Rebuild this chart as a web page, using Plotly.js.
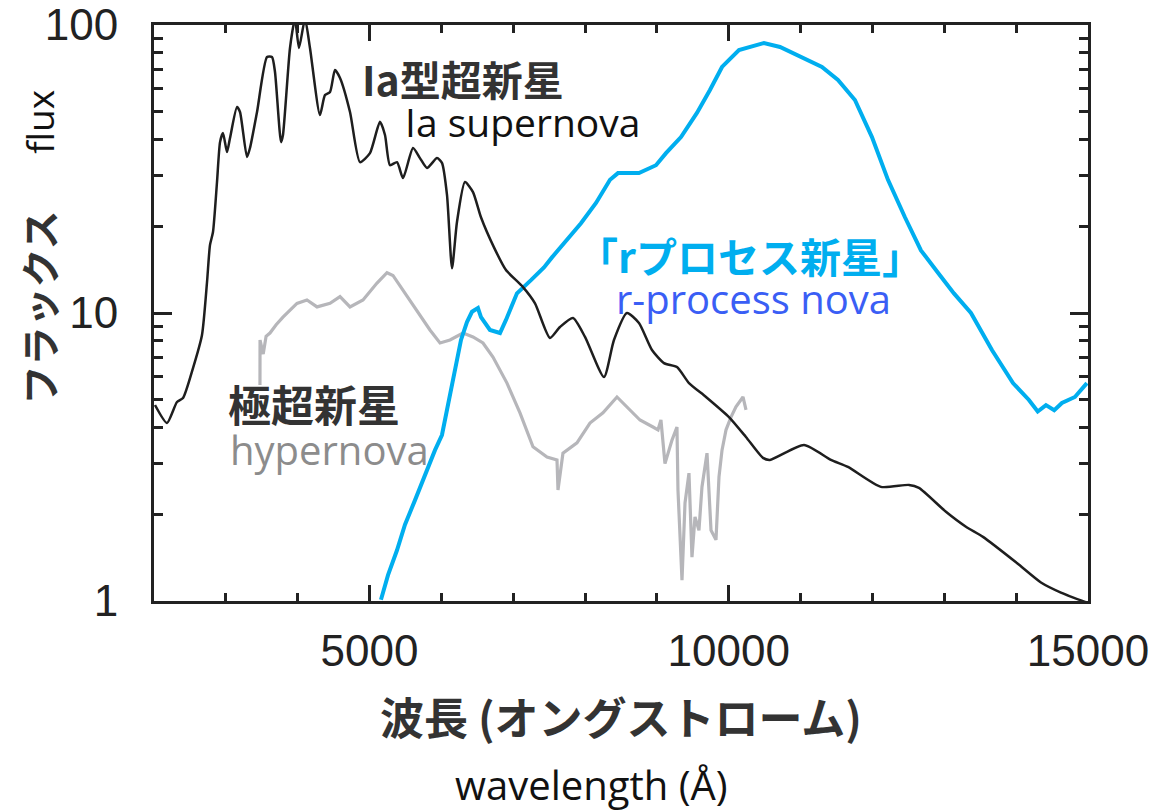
<!DOCTYPE html>
<html>
<head>
<meta charset="utf-8">
<script src="https://cdn.plot.ly/plotly-3.0.1.min.js"></script>
<style>
  html, body { margin: 0; padding: 0; background: #fff; }
  #chart { width: 1157px; height: 811px; }
</style>
</head>
<body>
<div id="chart"></div>
<script>
// Type Ia supernova spectrum (wavelength in Å, relative flux)
const iaWave = [2014, 2181, 2320, 2404, 2543, 2668, 2738, 2779, 2821, 2877, 2919, 2960, 3016, 3058, 3155, 3197,
  3294, 3336, 3434, 3573, 3642, 3684, 3768, 3795, 3893, 3962, 4018, 4102, 4171, 4310, 4380, 4450, 4519, 4589,
  4728, 4867, 5006, 5145, 5215, 5285, 5382, 5466, 5605, 5702, 5800, 5939, 6008, 6078, 6148, 6217, 6328, 6440,
  6551, 6732, 6899, 7136, 7303, 7511, 7651, 7832, 7999, 8263, 8402, 8583, 8750, 8931, 9098, 9279, 9446, 9683,
  10003, 10239, 10476, 10573, 11047, 11422, 11659, 12118, 12508, 12647, 13023, 13301, 13538, 14011, 14345,
  14623, 14971];
const iaFlux = [4.79, 4.15, 4.91, 5.07, 6.44, 8.39, 12.8, 17.2, 19.1, 28.5, 39.2, 42.2, 36.2, 40.5, 51.9, 49.9,
  34.8, 37.4, 49.9, 77.4, 77.4, 68.7, 39.2, 41.5, 83.2, 105, 83.2, 105, 83.2, 48.7, 57.1, 58.5, 69.8, 65.5,
  49.9, 33.4, 35.9, 46.1, 41.5, 32.6, 33.4, 29.4, 37.4, 34.5, 31.9, 34.5, 33.2, 25.7, 14.3, 20.7, 28.5, 26.3,
  21.5, 16.9, 14.1, 12.3, 10.8, 8.19, 8.94, 9.61, 8.26, 5.99, 8.06, 10.0, 9.23, 7.44, 6.70, 6.49, 5.71, 5.11,
  4.35, 3.71, 3.14, 3.09, 3.48, 3.09, 2.92, 2.49, 2.53, 2.47, 2.04, 1.81, 1.67, 1.355, 1.16,
  1.07, 0.99];

// r-process nova (kilonova) spectrum
const rpWave = [5159, 5257, 5382, 5493, 5633, 5772, 5911, 6008, 6148, 6217, 6273, 6356, 6426, 6509, 6551, 6676,
  6816, 6899, 7052, 7247, 7428, 7539, 7706, 7943, 8152, 8347, 8458, 8750, 8987, 9126, 9335, 9557, 9738, 9906,
  10142, 10490, 10713, 11005, 11297, 11520, 11756, 11993, 12216, 12452, 12675, 12912, 13134, 13371, 13663,
  13956, 14178, 14300, 14415, 14530, 14637, 14818, 14985];
const rpFlux = [1.01, 1.23, 1.50, 1.84, 2.24, 2.74, 3.34, 3.77, 5.62, 6.76, 8.06, 9.30, 10.1, 10.4, 9.68, 8.73,
  8.52, 9.46, 11.7, 13.0, 14.4, 15.6, 17.5, 20.5, 24.1, 29.0, 30.6, 30.6, 32.6, 35.9, 40.8, 49.5, 59.5, 71.5,
  81.9, 86.6, 83.9, 77.4, 71.5, 64.4, 54.9, 40.8, 29.0, 21.5, 16.5, 13.8, 11.7, 10.0, 7.44,
  5.71, 4.99, 4.55, 4.79, 4.60, 4.87, 5.11, 5.71];

// Hypernova spectrum
const hnWave = [3475, 3476, 3520, 3560, 3614, 3700, 3795, 3900, 3990, 4129, 4269, 4450, 4589, 4728, 4909, 5104,
  5243, 5326, 5466, 5660, 5841, 5981, 6120, 6301, 6440, 6579, 6718, 6913, 7094, 7275, 7470, 7609, 7623, 7692,
  7887, 8068, 8249, 8444, 8583, 8764, 8945, 9015, 9056, 9112, 9210, 9279, 9293, 9349, 9391, 9446, 9488, 9530,
  9585, 9627, 9697, 9753, 9822, 9864, 9906, 9962, 10031, 10100, 10198, 10240];
const hnFlux = [5.62, 8.06, 7.20, 8.30, 8.52, 9.10, 9.68, 10.3, 10.8, 11.1, 10.5, 10.8, 11.4, 10.5, 11.1, 12.7,
  13.8, 13.5, 12.0, 10.2, 8.73, 7.87, 8.06, 8.52, 8.26, 7.87, 7.03, 5.71, 4.50, 3.43, 3.16, 3.09, 2.43, 3.26,
  3.54, 4.15, 4.50, 5.11, 4.72, 4.25, 4.02, 3.93, 4.25, 3.00, 3.62, 4.02, 2.43, 1.18, 2.19, 2.78, 1.42, 1.96,
  1.76, 2.49, 3.26, 1.76, 1.63, 2.70, 3.34, 3.93, 4.35, 4.72, 5.11, 4.61];

// Axis tick labels
const xTicks = [5000, 10000, 15000];
const yTicks = [1, 10, 100];

const traces = [
  { x: hnWave, y: hnFlux, mode: 'lines', line: { color: '#b6b6ba', width: 3.2 }, hoverinfo: 'skip' },
  { x: rpWave, y: rpFlux, mode: 'lines', line: { color: '#00aeef', width: 4 }, hoverinfo: 'skip' },
  { x: iaWave, y: iaFlux, mode: 'lines', line: { color: '#1e1e1e', width: 2.5, shape: 'spline', smoothing: 0.6 }, hoverinfo: 'skip' }
];

const axisCommon = {
  showline: true, linecolor: '#222', linewidth: 3, mirror: 'allticks',
  ticks: 'inside', tickcolor: '#222', tickwidth: 3, showgrid: false, zeroline: false,
  tickfont: { family: 'Liberation Sans, Arial, sans-serif', size: 44, color: '#222' }
};

const cjk = 'Noto Sans CJK JP, sans-serif';
const latin = 'Open Sans, Noto Sans, sans-serif';

const layout = {
  width: 1157, height: 811,
  margin: { l: 154, r: 69, t: 25, b: 210 },
  paper_bgcolor: '#fff', plot_bgcolor: '#fff',
  showlegend: false,
  xaxis: Object.assign({}, axisCommon, {
    range: [2000, 15000], tickvals: xTicks, ticktext: xTicks.map(String), ticklen: 16, ticklabelstandoff: 9,
    minor: { dtick: 1000, tick0: 0, ticks: 'inside', ticklen: 8, tickwidth: 3, tickcolor: '#222' }
  }),
  yaxis: Object.assign({}, axisCommon, {
    type: 'log', range: [0, 2], tickvals: yTicks, ticktext: yTicks.map(String), ticklen: 18, ticklabelstandoff: 24,
    minor: { dtick: 'D1', ticks: 'inside', ticklen: 9, tickwidth: 3, tickcolor: '#222' }
  }),
  annotations: [
    { xref: 'paper', yref: 'paper', x: 0.5, y: -0.2, xanchor: 'center', yanchor: 'middle', showarrow: false,
      text: '<b>波長 (オングストローム)</b>', font: { family: cjk, size: 44, color: '#333' } },
    { xref: 'paper', yref: 'paper', x: 0.468, y: -0.318, xanchor: 'center', yanchor: 'middle', showarrow: false,
      borderpad: 0, text: 'wavelength (Å)', font: { family: latin, size: 40, color: '#111' } },
    { xref: 'paper', yref: 'paper', x: -0.124, y: 0.51, xanchor: 'center', yanchor: 'middle', showarrow: false,
      textangle: -90, text: '<b>フラックス</b>', font: { family: cjk, size: 39, color: '#333' } },
    { xref: 'paper', yref: 'paper', x: -0.122, y: 0.832, xanchor: 'center', yanchor: 'middle', showarrow: false,
      textangle: -90, text: 'flux', font: { family: latin, size: 37, color: '#111' } },
    { xref: 'x', yref: 'paper', x: 6300, y: 0.908, xanchor: 'center', yanchor: 'middle', showarrow: false,
      borderpad: 0, text: '<b>Ia型超新星</b>', font: { family: cjk, size: 41, color: '#333' } },
    { xref: 'x', yref: 'paper', x: 7122, y: 0.833, xanchor: 'center', yanchor: 'middle', showarrow: false,
      borderpad: 0, text: 'Ia supernova', font: { family: latin, size: 39, color: '#111' } },
    { xref: 'x', yref: 'paper', x: 10295, y: 0.601, xanchor: 'center', yanchor: 'middle', showarrow: false,
      borderpad: 0, text: '<b>「rプロセス新星」</b>', font: { family: cjk, size: 41, color: '#00aeef' } },
    { xref: 'x', yref: 'paper', x: 10351, y: 0.526, xanchor: 'center', yanchor: 'middle', showarrow: false,
      borderpad: 0, text: 'r-process nova', font: { family: latin, size: 40, color: '#3a5ef5' } },
    { xref: 'x', yref: 'paper', x: 4227, y: 0.343, xanchor: 'center', yanchor: 'middle', showarrow: false,
      borderpad: 0, text: '<b>極超新星</b>', font: { family: cjk, size: 43, color: '#333' } },
    { xref: 'x', yref: 'paper', x: 4436, y: 0.263, xanchor: 'center', yanchor: 'middle', showarrow: false,
      borderpad: 0, text: 'hypernova', font: { family: latin, size: 40, color: '#8c8c8c' } }
  ]
};

Plotly.newPlot('chart', traces, layout, { staticPlot: true, displayModeBar: false });
</script>
</body>
</html>
